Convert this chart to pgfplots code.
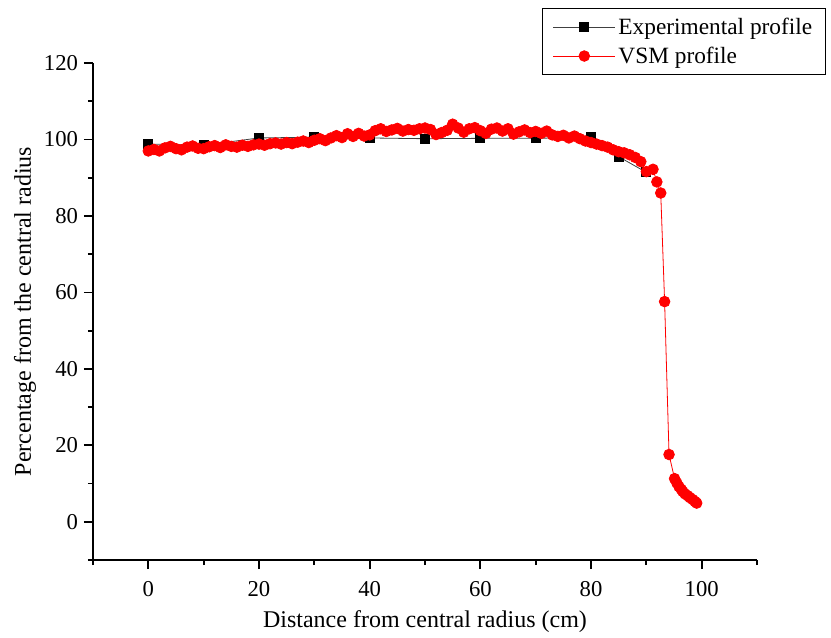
\documentclass[border=0pt]{standalone}
\usepackage{fontspec}
\setmainfont{Liberation Serif}
\usepackage{pgfplots}
\pgfplotsset{compat=1.18}

\begin{document}
\begin{tikzpicture}
\begin{axis}[
  scale only axis,
  width=498pt, height=372.75pt,
  xmin=-10, xmax=110,
  ymin=-10, ymax=120,
  axis lines*=left,
  axis line style={line width=1.3pt},
  tick align=outside,
  tick style={line width=1.3pt, black},
  major tick length=6.75pt,
  minor tick length=3.75pt,
  xtick={0,20,...,100},
  minor xtick={-10,10,...,110},
  ytick={0,20,...,120},
  minor ytick={-10,10,...,110},
  /pgf/number format/assume math mode=true,
  tick label style={font=\fontsize{17}{20}\selectfont},
  xticklabel style={yshift=-6pt},
  yticklabel style={xshift=-1pt},
  label style={font=\fontsize{18}{21}\selectfont},
  xlabel={Distance from central radius (cm)},
  ylabel={Percentage from the central radius},
  xlabel style={at={(axis description cs:0.5,-0.1247)}, anchor=center},
  ylabel style={at={(axis description cs:-0.1024,0.5)}, anchor=center},
  clip=false,
  legend style={
    at={(1.104,1.111)}, anchor=north east,
    draw=black, line width=0.8pt,
    font=\fontsize{17.5}{20}\selectfont,
    row sep=4pt, inner xsep=8pt, inner ysep=5pt,
    cells={anchor=west},
  },
  legend image code/.code={
    \draw[mark repeat=2,mark phase=2] plot coordinates {(0cm,0cm) (0.82cm,0cm) (1.64cm,0cm)};
  },
]
\path (rel axis cs:-0.140,-0.1489) rectangle (rel axis cs:1.1114,1.1268);

% Experimental profile
\addplot[line width=0.6pt, color=black!75, mark=square*, mark size=3.4pt,
  mark options={solid, fill=black, draw=black}]
  coordinates {(0,98.8)(10,98.5)(20,100.4)(30,100.6)(40,100.4)(50,100.2)
  (60,100.3)(70,100.3)(80,100.6)(85,95.5)(90,91.4)};
\addlegendentry{Experimental profile}

% VSM profile
\addplot[line width=0.6pt, color=red, mark=*, mark size=4pt,
  mark options={solid, fill=red, draw=red}]
  coordinates {
  (0,97.0)(1,97.4)(2,97.0)(3,97.8)(4,98.2)(5,97.6)(6,97.3)(7,98.0)(8,98.3)(9,97.7)
  (10,97.6)(11,98.1)(12,98.4)(13,97.9)(14,98.6)(15,98.2)(16,98.0)(17,98.5)(18,98.2)(19,98.6)
  (20,98.8)(21,98.5)(22,98.9)(23,99.1)(24,98.8)(25,99.2)(26,98.9)(27,99.3)(28,99.6)(29,99.2)
  (30,99.8)(31,100.2)(32,99.7)(33,100.4)(34,101.0)(35,100.5)(36,101.5)(37,100.8)(38,101.6)(39,100.9)
  (40,101.2)(41,102.3)(42,102.8)(43,102.1)(44,102.5)(45,102.9)(46,102.2)(47,102.6)(48,102.4)(49,102.8)
  (50,103.0)(51,102.6)(52,101.3)(53,101.8)(54,102.4)(55,104.0)(56,103.0)(57,101.9)(58,102.8)(59,103.1)
  (60,102.3)(61,101.6)(62,102.7)(63,103.0)(64,102.2)(65,102.8)(66,101.4)(67,102.0)(68,102.5)(69,101.8)
  (70,102.1)(71,101.6)(72,102.2)(73,101.2)(74,100.8)(75,101.1)(76,100.4)(77,100.9)(78,100.2)(79,99.6)
  (80,99.2)(81,98.8)(82,98.4)(83,98.0)(84,97.3)(85,96.8)(86,96.5)(87,96.0)(88,95.3)(89,94.2)
  (90,91.6)(91.2,92.2)(91.9,88.9)(92.6,86.0)(93.3,57.6)(94.1,17.6)
  (95.1,11.3)(95.5,10.2)(95.9,9.2)(96.3,8.5)(96.6,7.9)(97.0,7.3)(97.5,6.8)
  (97.9,6.3)(98.4,5.8)(98.8,5.3)(99.1,4.9)};
\addlegendentry{VSM profile}
\end{axis}
\end{tikzpicture}
\end{document}
